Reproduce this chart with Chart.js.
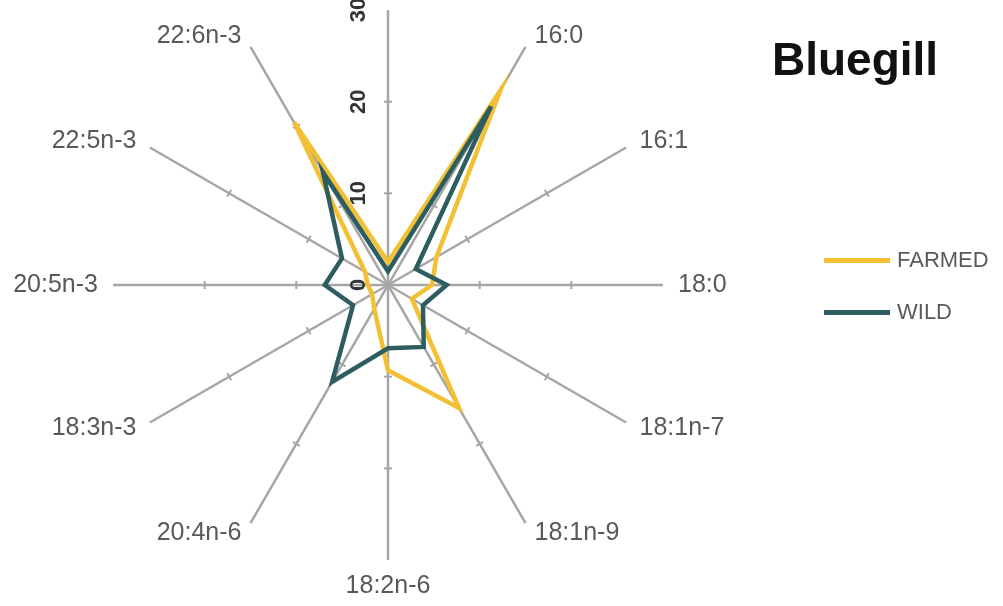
<!DOCTYPE html>
<html>
<head>
<meta charset="utf-8">
<script src="https://cdn.jsdelivr.net/npm/chart.js@4/dist/chart.umd.min.js"></script>
<style>
    body { margin: 0; background: #fff; }
    #wrap { position: relative; width: 1003px; height: 606px; overflow: hidden; }
    #title { position: absolute; left: 772px; top: 36px; font: bold 46px 'Liberation Sans', Arial, sans-serif; line-height: 46px; color: #111; }
    .leg-line { position: absolute; left: 824px; width: 66px; height: 5px; }
    .leg-text { position: absolute; left: 897px; font: 22px 'Liberation Sans', Arial, sans-serif; line-height: 22px; color: #5a5a5a; }
</style>
</head>
<body>
<div id="wrap">
    <canvas id="radar"></canvas>
    <div id="title">Bluegill</div>
    <div class="leg-line" style="top:258px;background:#F3C033"></div>
    <div class="leg-text" style="top:249px">FARMED</div>
    <div class="leg-line" style="top:310px;background:#2E5D5F"></div>
    <div class="leg-text" style="top:301px">WILD</div>
</div>
<script>
// Fatty acids, clockwise from the top spoke
const categories = ['14:0', '16:0', '16:1', '18:0', '18:1n-7', '18:1n-9', '18:2n-6', '20:4n-6', '18:3n-3', '20:5n-3', '22:5n-3', '22:6n-3'];
const farmed = [2.5, 24.5, 6.1, 4.8, 3.0, 15.5, 9.3, 3.0, 2.0, 2.2, 2.9, 20.5];
const wild = [1.5, 22.5, 3.5, 6.4, 4.4, 7.8, 6.9, 12.2, 4.4, 6.9, 5.8, 14.2];
const tickValues = [0, 10, 20, 30];

const FARMED_COLOR = '#F3C033';
const WILD_COLOR = '#2E5D5F';
const AXIS_COLOR = '#a6a6a6';

// Tick marks on the spokes, rotated tick labels and category labels
const radarDecor = {
    id: 'radarDecor',
    beforeDatasetsDraw(chart) {
        const scale = chart.scales.r;
        const ctx = chart.ctx;
        ctx.save();
        ctx.strokeStyle = AXIS_COLOR;
        ctx.lineWidth = 2;
        categories.forEach((c, i) => {
            const a = scale.getIndexAngle(i) - Math.PI / 2;
            tickValues.slice(1, -1).forEach(v => {
                const p = scale.getPointPositionForValue(i, v);
                const dx = -Math.sin(a) * 4, dy = Math.cos(a) * 4;
                ctx.beginPath();
                ctx.moveTo(p.x - dx, p.y - dy);
                ctx.lineTo(p.x + dx, p.y + dy);
                ctx.stroke();
            });
        });
        ctx.restore();
    },
    afterDraw(chart) {
        const scale = chart.scales.r;
        const ctx = chart.ctx;
        ctx.save();

        // value labels, written bottom-to-top left of the top spoke
        ctx.fillStyle = '#333';
        ctx.font = 'bold 22px "Liberation Sans", Arial, sans-serif';
        ctx.textAlign = 'center';
        ctx.textBaseline = 'middle';
        tickValues.forEach(v => {
            const y = scale.yCenter - scale.getDistanceFromCenterForValue(v);
            ctx.save();
            ctx.translate(scale.xCenter - 29, y);
            ctx.rotate(-Math.PI / 2);
            ctx.fillText(String(v), 0, 0);
            ctx.restore();
        });

        // category labels
        ctx.fillStyle = '#595959';
        ctx.font = '25px "Liberation Sans", Arial, sans-serif';
        categories.forEach((c, i) => {
            const a = scale.getIndexAngle(i);
            const s = Math.sin(a), co = Math.cos(a);
            const p = scale.getPointPosition(i, scale.drawingArea + 12);
            let x = p.x, y = p.y;
            if (s > 0.1) { ctx.textAlign = 'left'; x += 3; }
            else if (s < -0.1) { ctx.textAlign = 'right'; x -= 3; }
            else { ctx.textAlign = 'center'; y -= co * 14; }
            ctx.fillText(c, x, y);
        });
        ctx.restore();
    }
};

new Chart(document.getElementById('radar'), {
    type: 'radar',
    data: {
        labels: categories,
        datasets: [
            {
                label: 'FARMED',
                data: farmed,
                borderColor: FARMED_COLOR,
                borderWidth: 4.5,
                pointRadius: 0,
                fill: false,
                order: 1
            },
            {
                label: 'WILD',
                data: wild,
                borderColor: WILD_COLOR,
                borderWidth: 4.5,
                pointRadius: 0,
                fill: false,
                order: 0
            }
        ]
    },
    options: {
        responsive: true,
        maintainAspectRatio: false,
        animation: false,
        layout: { padding: { left: 113, top: 10, right: 340, bottom: 46 } },
        plugins: {
            legend: { display: false },
            tooltip: { enabled: false }
        },
        scales: {
            r: {
                min: 0,
                max: 30,
                ticks: { display: false, stepSize: 10 },
                grid: { display: false },
                angleLines: { color: AXIS_COLOR, lineWidth: 2.5 },
                pointLabels: { display: false }
            }
        }
    },
    plugins: [radarDecor]
});
</script>
</body>
</html>
